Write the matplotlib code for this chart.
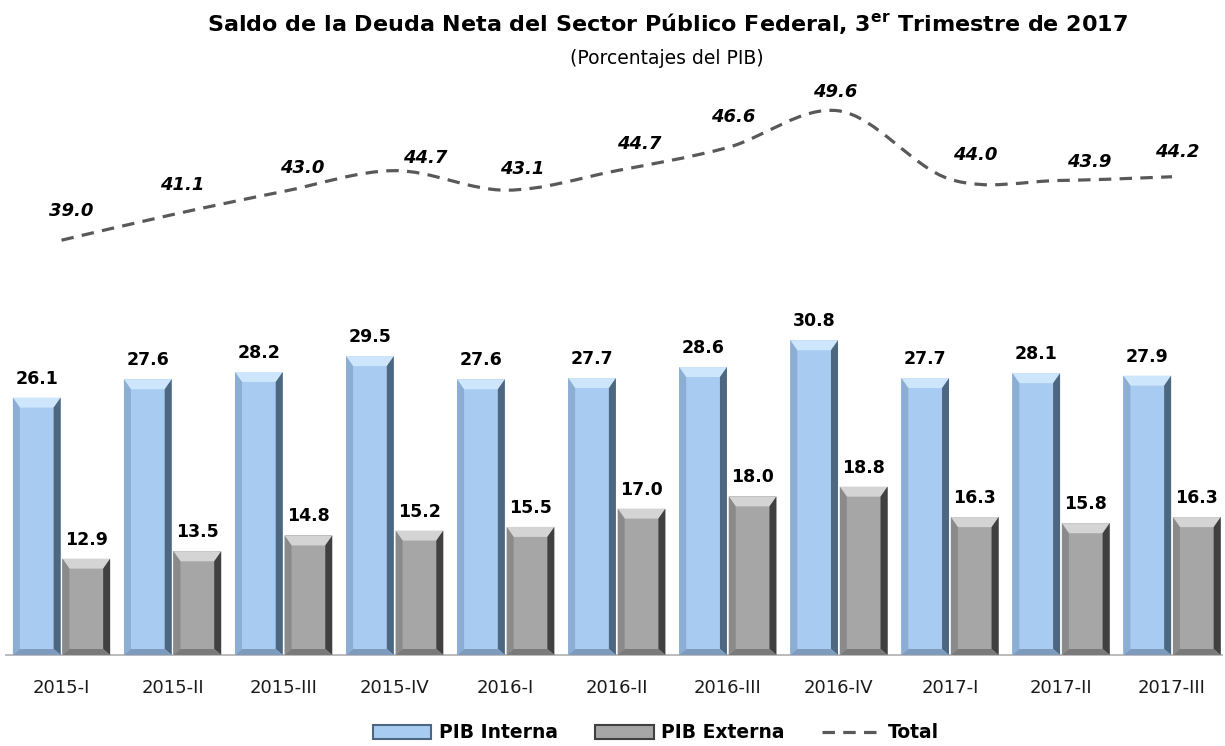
import numpy as np
import matplotlib
matplotlib.use("Agg")
import matplotlib.pyplot as plt
from matplotlib.path import Path
from matplotlib.patches import PathPatch, Polygon, Patch
from matplotlib.lines import Line2D

# ---------------- data ----------------
categories = ["2015-I", "2015-II", "2015-III", "2015-IV", "2016-I", "2016-II",
              "2016-III", "2016-IV", "2017-I", "2017-II", "2017-III"]
pib_interna = [26.1, 27.6, 28.2, 29.5, 27.6, 27.7, 28.6, 30.8, 27.7, 28.1, 27.9]
pib_externa = [12.9, 13.5, 14.8, 15.2, 15.5, 17.0, 18.0, 18.8, 16.3, 15.8, 16.3]
total = [39.0, 41.1, 43.0, 44.7, 43.1, 44.7, 46.6, 49.6, 44.0, 43.9, 44.2]

# label offsets for the Total series (pixels, from point to label centre)
label_dx = [10, 10, 19, 31, 16, 22, 5, -4, 25, 28, 5]
label_dy = [31, 31, 25, 14, 23, 28, 32, 20, 26, 20, 26]

W, H = 1225, 746
fig = plt.figure(figsize=(W / 100, H / 100), dpi=100)
ax_left, ax_bottom, ax_w, ax_h = 6, 91, 1216, 573.4
ax = fig.add_axes([ax_left / W, ax_bottom / H, ax_w / W, ax_h / H])
XMIN, XMAX, YMIN, YMAX = -0.5, 10.45, 5, 52
ax.set_xlim(XMIN, XMAX)
ax.set_ylim(YMIN, YMAX)

px_x = ax_w / (XMAX - XMIN)
px_y = ax_h / (YMAX - YMIN)

x = np.arange(len(categories))
bw = 0.43
off = 0.223

blue = dict(main="#A7CBF1", top="#CDE6FB", left="#8CAED3", right="#4E6781", bottom="#7E9BBD")
gray = dict(main="#A6A6A6", top="#D4D4D4", left="#8A8A8A", right="#404040", bottom="#7A7A7A")

bars_i = ax.bar(x - off, pib_interna, width=bw, color=blue["main"], zorder=2)
bars_e = ax.bar(x + off, pib_externa, width=bw, color=gray["main"], zorder=2)

s = 7 / px_x   # side bevel
t = 10 / px_y  # top bevel
b = 6 / px_y   # bottom bevel


def bevel(bars, c):
    for p in bars:
        x0 = p.get_x()
        x1 = x0 + p.get_width()
        y0 = max(p.get_y(), YMIN)
        y1 = p.get_y() + p.get_height()
        polys = [
            ([(x0, y1), (x1, y1), (x1 - s, y1 - t), (x0 + s, y1 - t)], c["top"]),
            ([(x0, y0), (x0 + s, y0 + b), (x0 + s, y1 - t), (x0, y1)], c["left"]),
            ([(x1, y0), (x1, y1), (x1 - s, y1 - t), (x1 - s, y0 + b)], c["right"]),
            ([(x0, y0), (x1, y0), (x1 - s, y0 + b), (x0 + s, y0 + b)], c["bottom"]),
        ]
        for pts, col in polys:
            ax.add_patch(Polygon(pts, closed=True, facecolor=col, edgecolor="none", zorder=3))


bevel(bars_i, blue)
bevel(bars_e, gray)

for xi, v in zip(x - off, pib_interna):
    ax.annotate(f"{v:.1f}", (xi, v), xytext=(0, 14), textcoords="offset pixels",
                ha="center", va="baseline", fontsize=12.5, fontweight="bold", color="black")
for xi, v in zip(x + off, pib_externa):
    ax.annotate(f"{v:.1f}", (xi, v), xytext=(0, 14), textcoords="offset pixels",
                ha="center", va="baseline", fontsize=12.5, fontweight="bold", color="black")

# smoothed Total line (Bezier through the data points)
pts = np.column_stack([x, total]).astype(float)
verts = [tuple(pts[0])]
codes = [Path.MOVETO]
n = len(pts)
for i in range(n - 1):
    p0 = pts[i - 1] if i > 0 else pts[i]
    p1 = pts[i]
    p2 = pts[i + 1]
    p3 = pts[i + 2] if i + 2 < n else pts[i + 1]
    c1 = p1 + (p2 - p0) / 6.0
    c2 = p2 - (p3 - p1) / 6.0
    verts += [tuple(c1), tuple(c2), tuple(p2)]
    codes += [Path.CURVE4, Path.CURVE4, Path.CURVE4]
line_patch = PathPatch(Path(verts, codes), facecolor="none", edgecolor="#595959",
                       lw=2.3, linestyle=(0, (3.9, 2.6)), zorder=4, capstyle="butt")
ax.add_patch(line_patch)

for xi, v, dx, dy in zip(x, total, label_dx, label_dy):
    ax.annotate(f"{v:.1f}", (xi, v), xytext=(dx, dy - 6.5), textcoords="offset pixels",
                ha="center", va="baseline", fontsize=13, fontweight="bold",
                fontstyle="italic", color="black")

# axes styling
for sp in ["top", "right", "left"]:
    ax.spines[sp].set_visible(False)
ax.spines["bottom"].set_color("#B5B5B5")
ax.spines["bottom"].set_linewidth(1.3)
ax.set_yticks([])
ax.set_xticks(x)
ax.set_xticklabels(categories, fontsize=13, color="#1a1a1a")
ax.tick_params(axis="x", length=0, pad=17)

# titles
fig.text(667 / W, 1 - 24 / H, r"Saldo de la Deuda Neta del Sector Público Federal, 3$^{\mathbf{er}}$ Trimestre de 2017",
         ha="center", va="center", fontsize=16, fontweight="bold")
fig.text(667 / W, 1 - 58 / H, "(Porcentajes del PIB)", ha="center", va="center", fontsize=13.5)

# legend
handles = [
    Patch(facecolor=blue["main"], edgecolor=blue["right"], linewidth=1.5, label="PIB Interna"),
    Patch(facecolor=gray["main"], edgecolor=gray["right"], linewidth=1.5, label="PIB Externa"),
    Line2D([0], [0], color="#595959", lw=2.3, linestyle=(0, (3.9, 2.6)), label="Total"),
]
leg = fig.legend(handles=handles, loc="center", bbox_to_anchor=(656 / W, 1 - 733 / H),
                 ncol=3, frameon=False, prop=dict(size=13.5, weight="bold"),
                 handlelength=3.1, handleheight=0.75, handletextpad=0.4, columnspacing=2.0)

fig.savefig("out.png", dpi=100)
